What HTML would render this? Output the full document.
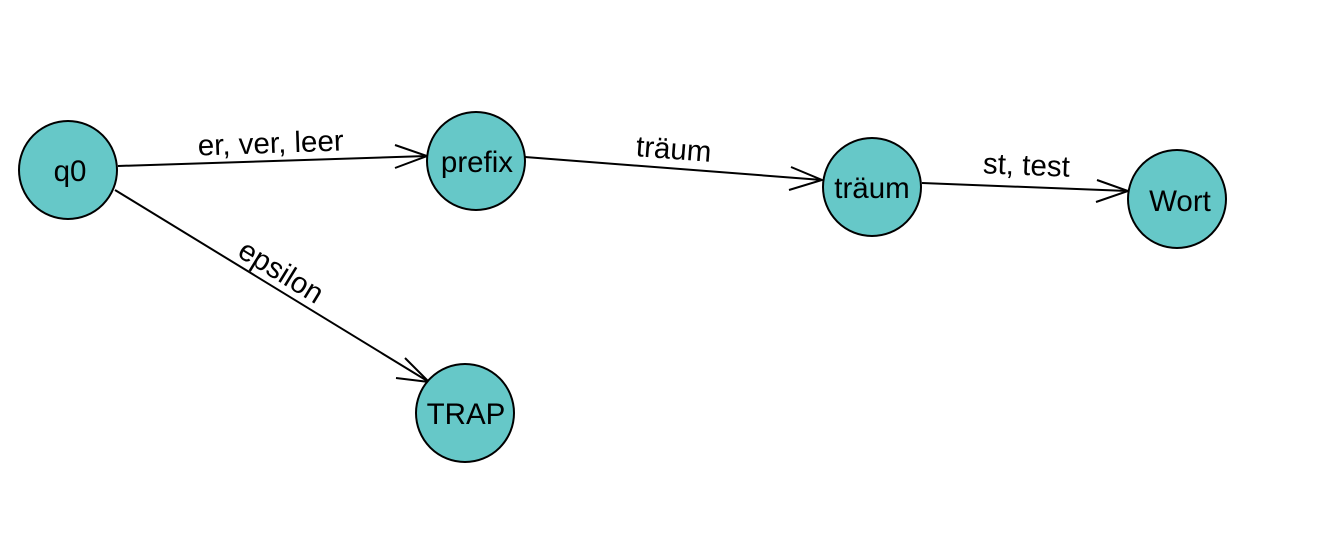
<!DOCTYPE html>
<html><head><style>body{margin:0;background:#fff}svg{display:block}</style></head><body>
<svg width="1339" height="555" xmlns="http://www.w3.org/2000/svg" font-family="Liberation Sans, Arial, sans-serif" font-size="29.5">
<rect width="1339" height="555" fill="#fff"/>
<g stroke="#000" stroke-width="2" fill="none">
<line x1="118" y1="166" x2="427" y2="156"/>
<polyline points="395,145 427,156 395,168"/>
<line x1="525" y1="157" x2="822" y2="180"/>
<polyline points="791,167 822,180 789,190"/>
<line x1="922" y1="183" x2="1128" y2="191"/>
<polyline points="1097,180 1128,191 1096,202"/>
<line x1="115" y1="190" x2="429" y2="382"/>
<polyline points="405,358 429,382 396,378"/>
</g>
<g fill="#66c8c8" stroke="#000" stroke-width="2">
<circle cx="68" cy="170" r="49"/>
<circle cx="476" cy="161" r="49"/>
<circle cx="872" cy="187" r="49"/>
<circle cx="1177" cy="199" r="49"/>
<circle cx="465" cy="413" r="49"/>
</g>
<g fill="#000" text-anchor="middle">
<text x="70" y="181">q0</text>
<text x="477" y="172">prefix</text>
<text x="872" y="198">träum</text>
<text x="1180" y="211">Wort</text>
<text x="466" y="424">TRAP</text>
<text x="271" y="153" transform="rotate(-2 271 153)">er, ver, leer</text>
<text x="673" y="159" transform="rotate(4.4 673 159)">träum</text>
<text x="1026" y="175" transform="rotate(2.3 1026 175)">st, test</text>
<text x="276" y="280" transform="rotate(31.5 276 280)">epsilon</text>
</g>
</svg>
</body></html>
